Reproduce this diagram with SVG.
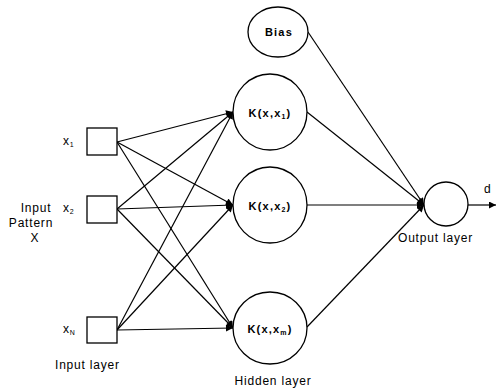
<svg xmlns="http://www.w3.org/2000/svg" width="497" height="388" viewBox="0 0 497 388">
<defs>
<style>
.n{fill:#fff;stroke:#000;stroke-width:1.3}
.c{stroke:#000;stroke-width:1.2;fill:none}
.t{font-family:"Liberation Sans",Arial,sans-serif;font-size:12px;fill:#000;letter-spacing:0.8px}
.k{font-family:"Liberation Sans",Arial,sans-serif;font-size:11px;font-weight:bold;fill:#000;letter-spacing:1.2px}
.s{font-size:7px}
</style>
<marker id="a" viewBox="0 0 10 10" refX="10" refY="5" markerWidth="9" markerHeight="7" markerUnits="userSpaceOnUse" orient="auto"><path d="M0,0L10,5L0,10z" fill="#000"/></marker>
</defs>
<g id="connectors">
<line class="c" x1="117" y1="142" x2="233" y2="112" marker-end="url(#a)"/>
<line class="c" x1="117" y1="142" x2="233" y2="205" marker-end="url(#a)"/>
<line class="c" x1="117" y1="142" x2="233" y2="328" marker-end="url(#a)"/>
<line class="c" x1="117" y1="209" x2="233" y2="112" marker-end="url(#a)"/>
<line class="c" x1="117" y1="209" x2="233" y2="205" marker-end="url(#a)"/>
<line class="c" x1="117" y1="209" x2="233" y2="328" marker-end="url(#a)"/>
<line class="c" x1="117" y1="330" x2="233" y2="112" marker-end="url(#a)"/>
<line class="c" x1="117" y1="330" x2="233" y2="205" marker-end="url(#a)"/>
<line class="c" x1="117" y1="330" x2="233" y2="328" marker-end="url(#a)"/>
<line class="c" x1="308" y1="32" x2="424" y2="205" marker-end="url(#a)"/>
<line class="c" x1="307" y1="112" x2="424" y2="205" marker-end="url(#a)"/>
<line class="c" x1="307" y1="205" x2="424" y2="205" marker-end="url(#a)"/>
<line class="c" x1="307" y1="327" x2="424" y2="205" marker-end="url(#a)"/>
<line class="c" x1="468" y1="205" x2="496" y2="205" marker-end="url(#a)"/>
</g>
<g id="in1"><rect class="n" x="87" y="128" width="30" height="27"/><text class="t" x="63" y="145">x<tspan class="s" dy="2">1</tspan></text></g>
<g id="in2"><rect class="n" x="87" y="196" width="30" height="27"/><text class="t" x="63" y="212">x<tspan class="s" dy="2">2</tspan></text></g>
<g id="inN"><rect class="n" x="87" y="317" width="30" height="26"/><text class="t" x="63" y="333">x<tspan class="s" dy="2">N</tspan></text></g>
<g id="pattern"><text class="t" text-anchor="middle" x="36" y="212">Input</text><text class="t" text-anchor="middle" x="31" y="227">Pattern</text><text class="t" text-anchor="middle" x="35" y="242">X</text></g>
<g id="bias"><ellipse class="n" cx="278" cy="32" rx="30" ry="25"/><text class="k" text-anchor="middle" x="279" y="36">Bias</text></g>
<g id="k1"><ellipse class="n" cx="270" cy="112" rx="37" ry="38"/><text class="k" text-anchor="middle" x="270" y="117">K(x,x<tspan class="s" dy="2">1</tspan><tspan dy="-2">)</tspan></text></g>
<g id="k2"><ellipse class="n" cx="270" cy="205" rx="37" ry="38"/><text class="k" text-anchor="middle" x="270" y="210">K(x,x<tspan class="s" dy="2">2</tspan><tspan dy="-2">)</tspan></text></g>
<g id="km"><ellipse class="n" cx="270" cy="328" rx="37" ry="36"/><text class="k" text-anchor="middle" x="270" y="333">K(x,x<tspan class="s" dy="2">m</tspan><tspan dy="-2">)</tspan></text></g>
<g id="out"><circle class="n" cx="446" cy="204" r="22"/><text class="t" x="484" y="193">d</text></g>
<text class="t" x="55" y="369">Input layer</text>
<text class="t" text-anchor="middle" x="273" y="385">Hidden layer</text>
<text class="t" x="398" y="242">Output  layer</text>
</svg>
